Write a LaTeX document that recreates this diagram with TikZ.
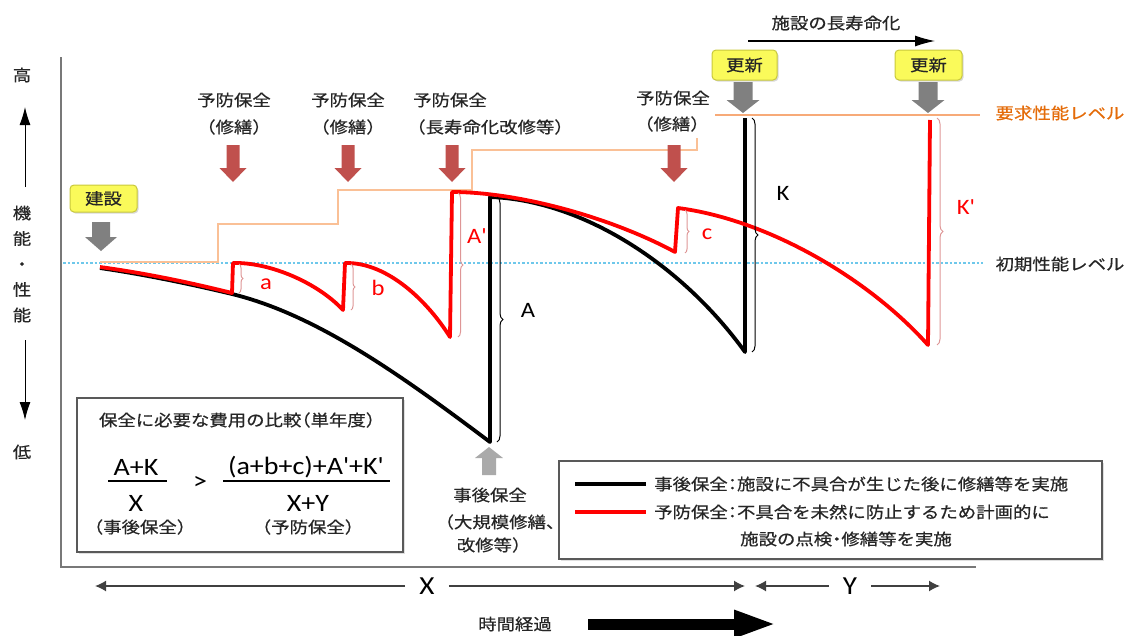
\documentclass[tikz,border=0pt]{standalone}
\usepackage{fontspec}
\setmainfont{Noto Sans CJK JP}[FakeStretch=1.15,FakeBold=0.6,RawFeature=+halt]
\newfontfamily\latf{Carlito}[FakeStretch=1.12]
\usetikzlibrary{decorations.pathreplacing,shadows,arrows.meta}
\definecolor{rarrow}{RGB}{192,80,77}
\definecolor{garrow}{RGB}{128,128,128}
\definecolor{lgarrow}{RGB}{170,170,170}
\definecolor{stepc}{RGB}{250,192,150}
\definecolor{reqc}{RGB}{247,170,120}
\definecolor{reqt}{RGB}{228,108,10}
\definecolor{cyanl}{RGB}{110,200,235}
\definecolor{pinkb}{RGB}{222,150,150}
\definecolor{yboxf}{RGB}{250,250,90}
\definecolor{yboxd}{RGB}{200,200,60}
\definecolor{txt}{RGB}{38,38,38}
\definecolor{axgray}{RGB}{120,120,120}
\definecolor{mred}{RGB}{255,0,0}
\newcommand\bdown[7]{\fill[#7] (#1-#5,#2) -- (#1+#5,#2) -- (#1+#5,#3) -- (#1+#6,#3) -- (#1,#4) -- (#1-#6,#3) -- (#1-#5,#3) -- cycle;}
\begin{document}
\begin{tikzpicture}[x=1pt,y=-1pt,
  jp/.style={font=\fontsize{16}{19}\selectfont, text=txt, inner sep=0pt},
  lt/.style={font=\latf\fontsize{22}{24}\selectfont, inner sep=0pt},
  ybox/.style={draw=yboxd, fill=yboxf, rounded corners=4pt, line width=1pt, inner sep=0pt,
     minimum height=28pt, drop shadow={opacity=0.3,shadow xshift=1.5pt,shadow yshift=-1.5pt}},
  blkline/.style={line width=3.8pt, black, line join=round},
  redline/.style={line width=3.8pt, mred, line join=round},
  bracepink/.style={draw=pinkb, line width=1pt, decorate, decoration={brace, amplitude=#1}},
  braceblk/.style={draw=black, line width=1pt, decorate, decoration={brace, amplitude=#1}},
  stepline/.style={draw=stepc, line width=2pt},
  reqline/.style={draw=reqc, line width=1.5pt},
  initline/.style={draw=cyanl, line width=1.1pt, dash pattern=on 2.5pt off 2pt},
  axline/.style={draw=axgray, line width=1.5pt},
  axarrow/.style={draw=black, line width=1pt, -{Latex[length=18pt,width=11pt]}},
  dimarrow/.style={draw=black!75, line width=1.5pt, -{Latex[length=11pt,width=11pt]}},
  frame/.style={draw=black!65, line width=1.6pt, fill=white, drop shadow={opacity=0.25,shadow xshift=1.5pt,shadow yshift=-1.5pt}}
]
\useasboundingbox (0,0) rectangle (1132,635);

% axes
\draw[axline] (61,57) -- (61,567) -- (976,567);

% left axis labels
\node[jp] (high) at (22,75) {高};
\node[jp, align=center, font=\fontsize{16}{25.5}\selectfont] (kino) at (22,264) {機\\能\\・\\性\\能};
\node[jp] (low) at (22,452) {低};
\coordinate (upS) at (25,187); \coordinate (upE) at (25,107);
\coordinate (dnS) at (25,340); \coordinate (dnE) at (25,420);
\draw[axarrow] (upS) -- (upE);
\draw[axarrow] (dnS) -- (dnE);

% levels
\draw[initline] (63,263) -- (983,263);
\draw[reqline] (715,115) -- (980,115);
\draw[stepline] (100,262) -- (218,262) -- (218,224) -- (338,224) -- (338,190) -- (472,190) -- (472,150) -- (697,150) -- (697,138);
\node[jp, text=reqt] (reqlbl) at (1060,113) {要求性能レベル};
\node[jp] (initlbl) at (1060,264) {初期性能レベル};

% black curve (post-failure maintenance)
\draw[blkline] (100,268) .. controls (144,274.5) and (188,283.5) .. (232,294)
   .. controls (318,315) and (404,377.5) .. (490,442) -- (490,197)
   .. controls (580,200) and (680,262) .. (745,352) -- (745,118);

% red curve (preventive maintenance)
\draw[redline] (100,267) .. controls (144,273) and (188,282) .. (232,293) -- (233,263)
   .. controls (270,262) and (318,283) .. (343,310) -- (345,263)
   .. controls (388,262) and (428,302) .. (450,337) -- (452,192)
   .. controls (520,192) and (612,218) .. (675,252) -- (678,208)
   .. controls (770,220) and (870,280) .. (928,345) -- (930,120);

% braces
\draw[bracepink=4pt] (239,264) -- (239,293);
\node[lt, text=mred] (la) at (266,284) {a};
\draw[bracepink=4pt] (351,264) -- (351,310);
\node[lt, text=mred] (lb) at (378,288) {b};
\draw[bracepink=5pt] (458,193) -- (458,337);
\node[lt, text=mred] (lA2) at (477,236) {A'};
\draw[braceblk=6pt] (497,197) -- (497,442);
\node[lt] (lA) at (528,310) {A};
\draw[bracepink=4pt] (685,210) -- (685,253);
\node[lt, text=mred] (lc) at (707,234) {c};
\draw[braceblk=6pt] (752,118) -- (752,352);
\node[lt] (lK) at (783,193) {K};
\draw[bracepink=6pt] (937,118) -- (937,345);
\node[lt, text=mred] (lK2) at (966,207) {K'};

% preventive maintenance labels and arrows
\node[jp] (yobo1) at (234,100) {予防保全};
\node[jp] (shu1) at (234,127) {（修繕）};
\node[jp] (yobo2) at (348,100) {予防保全};
\node[jp] (shu2) at (348,127) {（修繕）};
\node[jp] (yobo3) at (450,100) {予防保全};
\node[jp] (choju) at (490,127) {（長寿命化改修等）};
\node[jp] (yobo4) at (673,98) {予防保全};
\node[jp] (shu4) at (672,124) {（修繕）};
\bdown{233}{145}{168}{182}{6.5}{13.5}{rarrow}
\bdown{348}{145}{168}{182}{6.5}{13.5}{rarrow}
\bdown{452}{145}{168}{182}{6.5}{13.5}{rarrow}
\bdown{674}{145}{168}{182}{6.5}{13.5}{rarrow}

% construction / renewal
\node[ybox, jp, minimum width=67pt, minimum height=27pt] (kensetsu) at (103.5,198.5) {建設};
\bdown{101}{222}{237}{251}{9}{16}{garrow}
\node[ybox, jp, minimum width=65pt, minimum height=30pt] (koshin1) at (744.5,65) {更新};
\node[ybox, jp, minimum width=67pt, minimum height=30pt] (koshin2) at (928.5,65) {更新};
\bdown{743}{82}{100}{113}{9.5}{16.5}{garrow}
\bdown{928}{82}{100}{113}{9.5}{16.5}{garrow}
\node[jp] (choju2) at (836,23) {施設の長寿命化};
\coordinate (lifeS) at (748,41); \coordinate (lifeE) at (935,41);
\draw[draw=black, line width=1.2pt, -{Latex[length=20pt,width=11pt]}] (lifeS) -- (lifeE);

% post-failure maintenance arrow
\bdown{489}{475}{458}{447}{7}{14}{lgarrow}
\node[jp] (jigo1) at (490,495) {事後保全};
\node[jp] (jigo2) at (500,522) {（大規模修繕、};
\node[jp] (jigo3) at (489,545) {改修等）};

% cost box
\path[frame] (77,398) rectangle (403,552);
\node[jp] (ctitle) at (237,420) {保全に必要な費用の比較（単年度）};
\node[lt, font=\latf\fontsize{25}{27}\selectfont] (n1) at (136,467) {A+K};
\node[lt, font=\latf\fontsize{25}{27}\selectfont] (d1) at (136,503) {X};
\draw[line width=1.3pt] (108,481) -- (167,481);
\node[lt, font=\latf\fontsize{25}{27}\selectfont] (gt) at (200,483) {>};
\node[lt, font=\latf\fontsize{25}{27}\selectfont] (n2) at (306,467) {(a+b+c)+A'+K'};
\node[lt, font=\latf\fontsize{25}{27}\selectfont] (d2) at (308,503) {X+Y};
\draw[line width=1.3pt] (223,481) -- (390,481);
\node[jp] (c1) at (140,527) {（事後保全）};
\node[jp] (c2) at (308,527) {（予防保全）};

% legend
\path[frame] (559,461) rectangle (1102,559);
\coordinate (lg1a) at (575,484); \coordinate (lg1b) at (646,484);
\coordinate (lg2a) at (575,512); \coordinate (lg2b) at (646,512);
\draw[line width=4pt, black] (lg1a) -- (lg1b);
\draw[line width=4pt, mred] (lg2a) -- (lg2b);
\node[jp, anchor=west] (leg1) at (654,484) {事後保全：施設に不具合が生じた後に修繕等を実施};
\node[jp, anchor=west] (leg2) at (654,512) {予防保全：不具合を未然に防止するため計画的に};
\node[jp] (leg3) at (846,539) {施設の点検・修繕等を実施};

% X / Y spans
\node[lt, font=\latf\fontsize{26}{28}\selectfont, inner xsep=14pt] (X) at (427,586) {X};
\coordinate (xL) at (95,586); \coordinate (xR) at (745,586);
\draw[dimarrow] (X) -- (xL);
\draw[dimarrow] (X) -- (xR);
\node[lt, font=\latf\fontsize{26}{28}\selectfont, inner xsep=14pt] (Y) at (850,586) {Y};
\coordinate (yL) at (755,586); \coordinate (yR) at (940,586);
\draw[dimarrow] (Y) -- (yL);
\draw[dimarrow] (Y) -- (yR);

% time arrow
\node[jp] (jikan) at (515,624) {時間経過};
\coordinate (tS) at (588,624); \coordinate (tE) at (777,624);
\draw[line width=11pt, -{Triangle[length=43pt,width=25pt]}] (tS) -- (tE);
\end{tikzpicture}
\end{document}
